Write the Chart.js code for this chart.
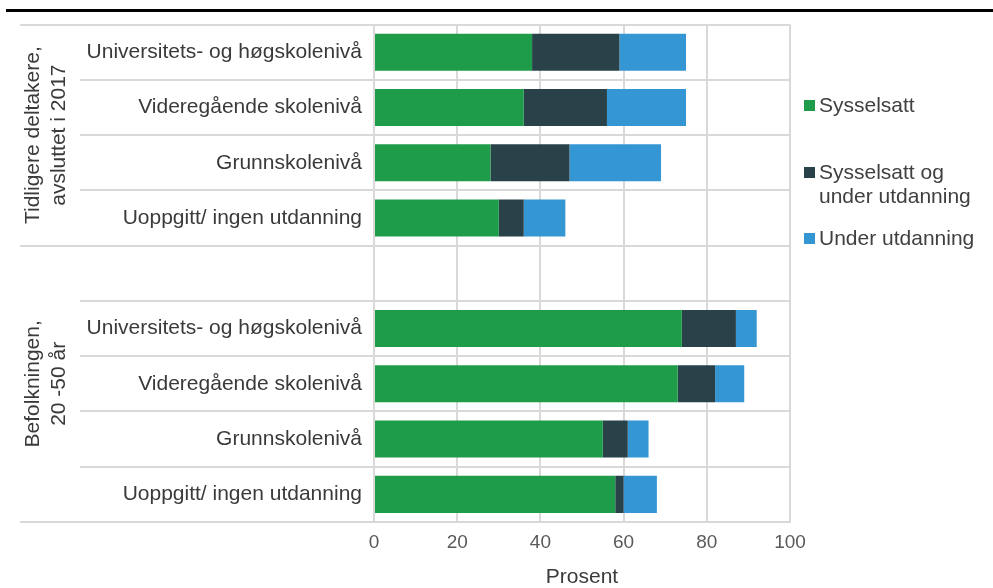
<!DOCTYPE html>
<html>
<head>
<meta charset="utf-8">
<script src="https://cdn.jsdelivr.net/npm/chart.js@4"></script>
<style>
  body { margin: 0; background: #fff; font-family: "Liberation Sans", Arial, sans-serif; }
  #wrap { position: relative; width: 993px; height: 588px; overflow: hidden; }
  #rule { position: absolute; left: 6px; right: 0; top: 9px; height: 3px; background: #000; }
  #chart { position: absolute; left: 0; top: 0; }
  #legend { position: absolute; left: 804px; top: 0; color: #404040; font-size: 21px; }
  .item { position: absolute; left: 0; white-space: nowrap; line-height: 24px; }
  .box { position: absolute; left: 0; top: 7px; width: 11px; height: 11px; }
  .txt { display: block; padding-left: 15px; }
</style>
</head>
<body>
<div id="wrap">
  <div id="rule"></div>
  <canvas id="chart" width="993" height="588"></canvas>
  <div id="legend"></div>
</div>
<script>
// categories (empty one is the gap between the two groups)
const categories = [
    'Universitets- og høgskolenivå', 'Videregående skolenivå', 'Grunnskolenivå', 'Uoppgitt/ ingen utdanning',
    '',
    'Universitets- og høgskolenivå', 'Videregående skolenivå', 'Grunnskolenivå', 'Uoppgitt/ ingen utdanning'
];
const groupLabels = [['Tidligere deltakere,', 'avsluttet i 2017'], ['Befolkningen,', '20 -50 år']];
const groupStart = [0, 4];
const groupEnd = [3, 8];

const seriesNames = ['Sysselsatt', 'Sysselsatt og under utdanning', 'Under utdanning'];
const sysselsatt = [38, 36, 28, 30, null, 74, 73, 55, 58];
const sysselsattOgUtd = [21, 20, 19, 6, null, 13, 9, 6, 2];
const underUtd = [16, 19, 22, 10, null, 5, 7, 5, 8];
const xTicks = [0, 20, 40, 60, 80, 100];

const colors = ['#1e9c4a', '#294249', '#3596d4'];
const gridColor = '#d9d9d9';
const textColor = '#3a3a3a';
const fontFamily = '"Liberation Sans", Arial, sans-serif';

// left part of the category axis: row lines and rotated group labels
const groupAxis = {
    id: 'groupAxis',
    afterDraw(chart) {
        const ctx = chart.ctx;
        const y = chart.scales.y;
        const left = chart.chartArea.left;
        ctx.save();
        ctx.strokeStyle = gridColor;
        ctx.lineWidth = 2;
        for (let i = 0; i <= categories.length; i++) {
            const py = Math.round(y.getPixelForValue(i - 0.5));
            const outer = groupStart.includes(i) || i === categories.length;
            ctx.beginPath();
            ctx.moveTo(outer ? 20 : 80, py);
            ctx.lineTo(left, py);
            ctx.stroke();
        }
        ctx.fillStyle = textColor;
        ctx.font = '21px ' + fontFamily;
        ctx.textAlign = 'center';
        ctx.textBaseline = 'middle';
        groupLabels.forEach((lines, g) => {
            const top = y.getPixelForValue(groupStart[g] - 0.5);
            const bottom = y.getPixelForValue(groupEnd[g] + 0.5);
            ctx.save();
            ctx.translate(46.5, (top + bottom) / 2);
            ctx.rotate(-Math.PI / 2);
            lines.forEach((line, k) => {
                ctx.fillText(line, 0, (k - (lines.length - 1) / 2) * 26);
            });
            ctx.restore();
        });
        ctx.restore();
    }
};

const ctx = document.getElementById('chart').getContext('2d');
new Chart(ctx, {
    type: 'bar',
    data: {
        labels: categories,
        datasets: [sysselsatt, sysselsattOgUtd, underUtd].map((d, i) => ({
            label: seriesNames[i],
            data: d,
            backgroundColor: colors[i],
            borderWidth: 0,
            barPercentage: 0.67,
            categoryPercentage: 1
        }))
    },
    options: {
        indexAxis: 'y',
        responsive: false,
        animation: false,
        layout: {
            padding: { top: 22, right: 203, left: 0, bottom: 0 }
        },
        plugins: {
            legend: { display: false },
            tooltip: { enabled: false }
        },
        scales: {
            x: {
                stacked: true,
                min: 0,
                max: 100,
                afterBuildTicks: s => { s.ticks = xTicks.map(v => ({ value: v })); },
                afterFit: s => { s.height = 66; },
                ticks: {
                    color: '#595959',
                    font: { size: 19, family: fontFamily },
                    padding: 9
                },
                grid: { color: gridColor, lineWidth: 2, drawTicks: false },
                border: { color: gridColor, width: 2 },
                title: {
                    display: true,
                    text: 'Prosent',
                    color: textColor,
                    font: { size: 21, family: fontFamily, lineHeight: 1 },
                    padding: 0
                }
            },
            y: {
                stacked: true,
                afterFit: s => { s.width = 374; },
                ticks: {
                    color: textColor,
                    autoSkip: false,
                    font: { size: 21, family: fontFamily },
                    padding: 12
                },
                grid: { color: gridColor, lineWidth: 2, drawTicks: false },
                border: { color: gridColor, width: 2 }
            }
        }
    },
    plugins: [groupAxis]
});

// legend on the right, second entry wraps over two lines like the original
const legendTops = [93, 160, 226];
const legendText = ['Sysselsatt', 'Sysselsatt og<br>under utdanning', 'Under utdanning'];
const legend = document.getElementById('legend');
seriesNames.forEach((name, i) => {
    const item = document.createElement('div');
    item.className = 'item';
    item.style.top = legendTops[i] + 'px';
    item.innerHTML = '<span class="box" style="background:' + colors[i] + '"></span>' +
        '<span class="txt">' + legendText[i] + '</span>';
    legend.appendChild(item);
});
</script>
</body>
</html>
